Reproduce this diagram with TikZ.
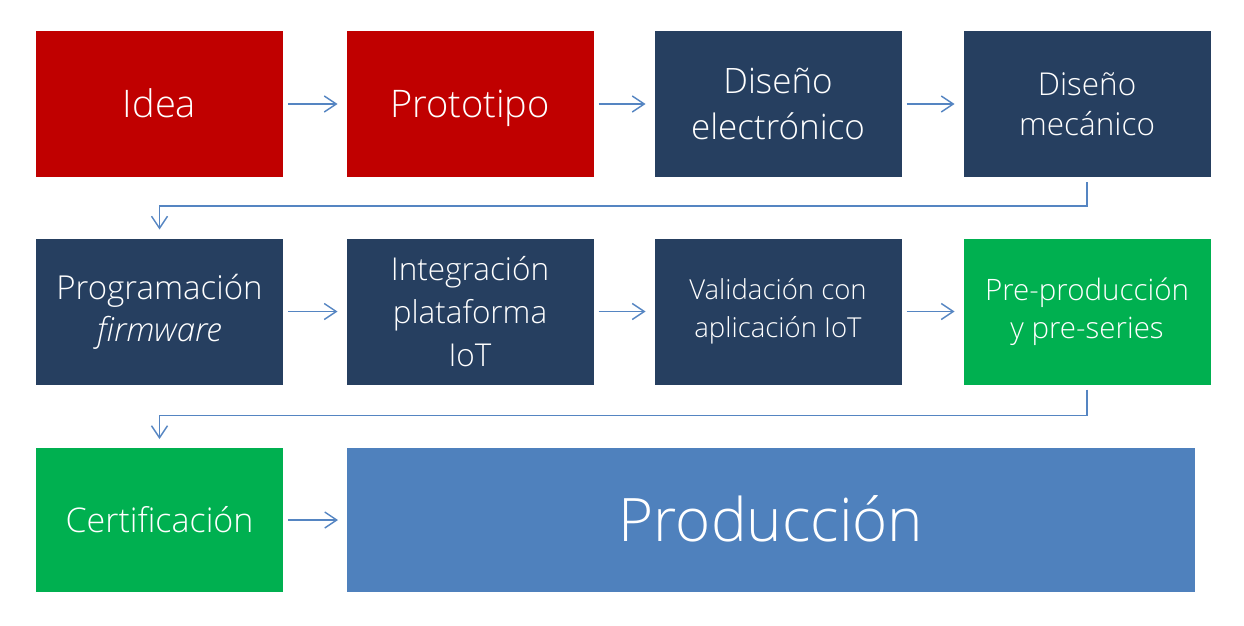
\documentclass[tikz,border=0pt]{standalone}
\usepackage{fontspec}
\setmainfont{Open Sans Light}[ItalicFont={Open Sans Light Italic}]
\usetikzlibrary{arrows.meta,calc}
\definecolor{cred}{HTML}{C00000}
\definecolor{cnavy}{HTML}{263F60}
\definecolor{cgreen}{HTML}{00B050}
\definecolor{cblue}{HTML}{4F81BD}
\definecolor{carrow}{HTML}{5585C2}
\tikzset{
  box/.style={fill=#1, draw=none, text=white, minimum width=247pt, minimum height=146pt,
    inner sep=0pt, outer sep=0pt, align=center},
  fs/.style 2 args={font=\fontsize{#1}{#2}\selectfont},
  oneline/.style={text height=#1, text depth=0pt},
  arr/.style={draw=carrow, line width=1.4pt, -{Straight Barb[length=12pt,width=16pt,line width=1.4pt]}},
}
\begin{document}
\begin{tikzpicture}[x=1pt,y=-1pt]
\useasboundingbox (0,0) rectangle (1244,626);
% row 1
\node[box=cred, fs={38}{46}, oneline=27pt] (idea) at (159.5,104) {Idea};
\node[box=cred, fs={38}{46}, oneline=27pt] (proto) at (470,104) {Prototipo};
\node[box=cnavy, fs={35}{46}] (delec) at (778,104) {Diseño\\electrónico};
\node[box=cnavy, fs={31.5}{40}] (dmec) at (1087,104) {Diseño\\mecánico};
% row 2
\node[box=cnavy, fs={33}{42}] (prog) at (159.5,311.5) {Programación\\\textit{firmware}};
\node[box=cnavy, fs={31.5}{43}] (integ) at (470,311.5) {Integración\\plataforma\\IoT};
\node[box=cnavy, fs={27.5}{38}] (valid) at (778,311.5) {Validación con\\aplicación IoT};
\node[box=cgreen, fs={29.5}{38}] (prepro) at (1087,311.5) {Pre-producción\\y pre-series};
% row 3
\node[box=cgreen, fs={34}{40}, oneline=24.3pt, minimum height=144pt] (cert) at (159.5,520) {Certificación};
\node[box=cblue, fs={60}{70}, oneline=43pt, minimum width=848pt, minimum height=144pt] (prod) at (771,520) {Producción};
% arrows
\draw[arr] ($(idea.east)+(5,0)$) -- ($(proto.west)+(-9,0)$);
\draw[arr] ($(proto.east)+(5,0)$) -- ($(delec.west)+(-9,0)$);
\draw[arr] ($(delec.east)+(5,0)$) -- ($(dmec.west)+(-9,0)$);
\draw[arr] ($(prog.east)+(5,0)$) -- ($(integ.west)+(-9,0)$);
\draw[arr] ($(integ.east)+(5,0)$) -- ($(valid.west)+(-9,0)$);
\draw[arr] ($(valid.east)+(5,0)$) -- ($(prepro.west)+(-9,0)$);
\draw[arr] ($(cert.east)+(5,0)$) -- ($(prod.west)+(-9,0)$);
\draw[arr] ($(dmec.south)+(0,5)$) -- ++(0,24) -| ($(prog.north)+(0,-9)$);
\draw[arr] ($(prepro.south)+(0,5)$) -- ++(0,26) -| ($(cert.north)+(0,-9)$);
\end{tikzpicture}
\end{document}
